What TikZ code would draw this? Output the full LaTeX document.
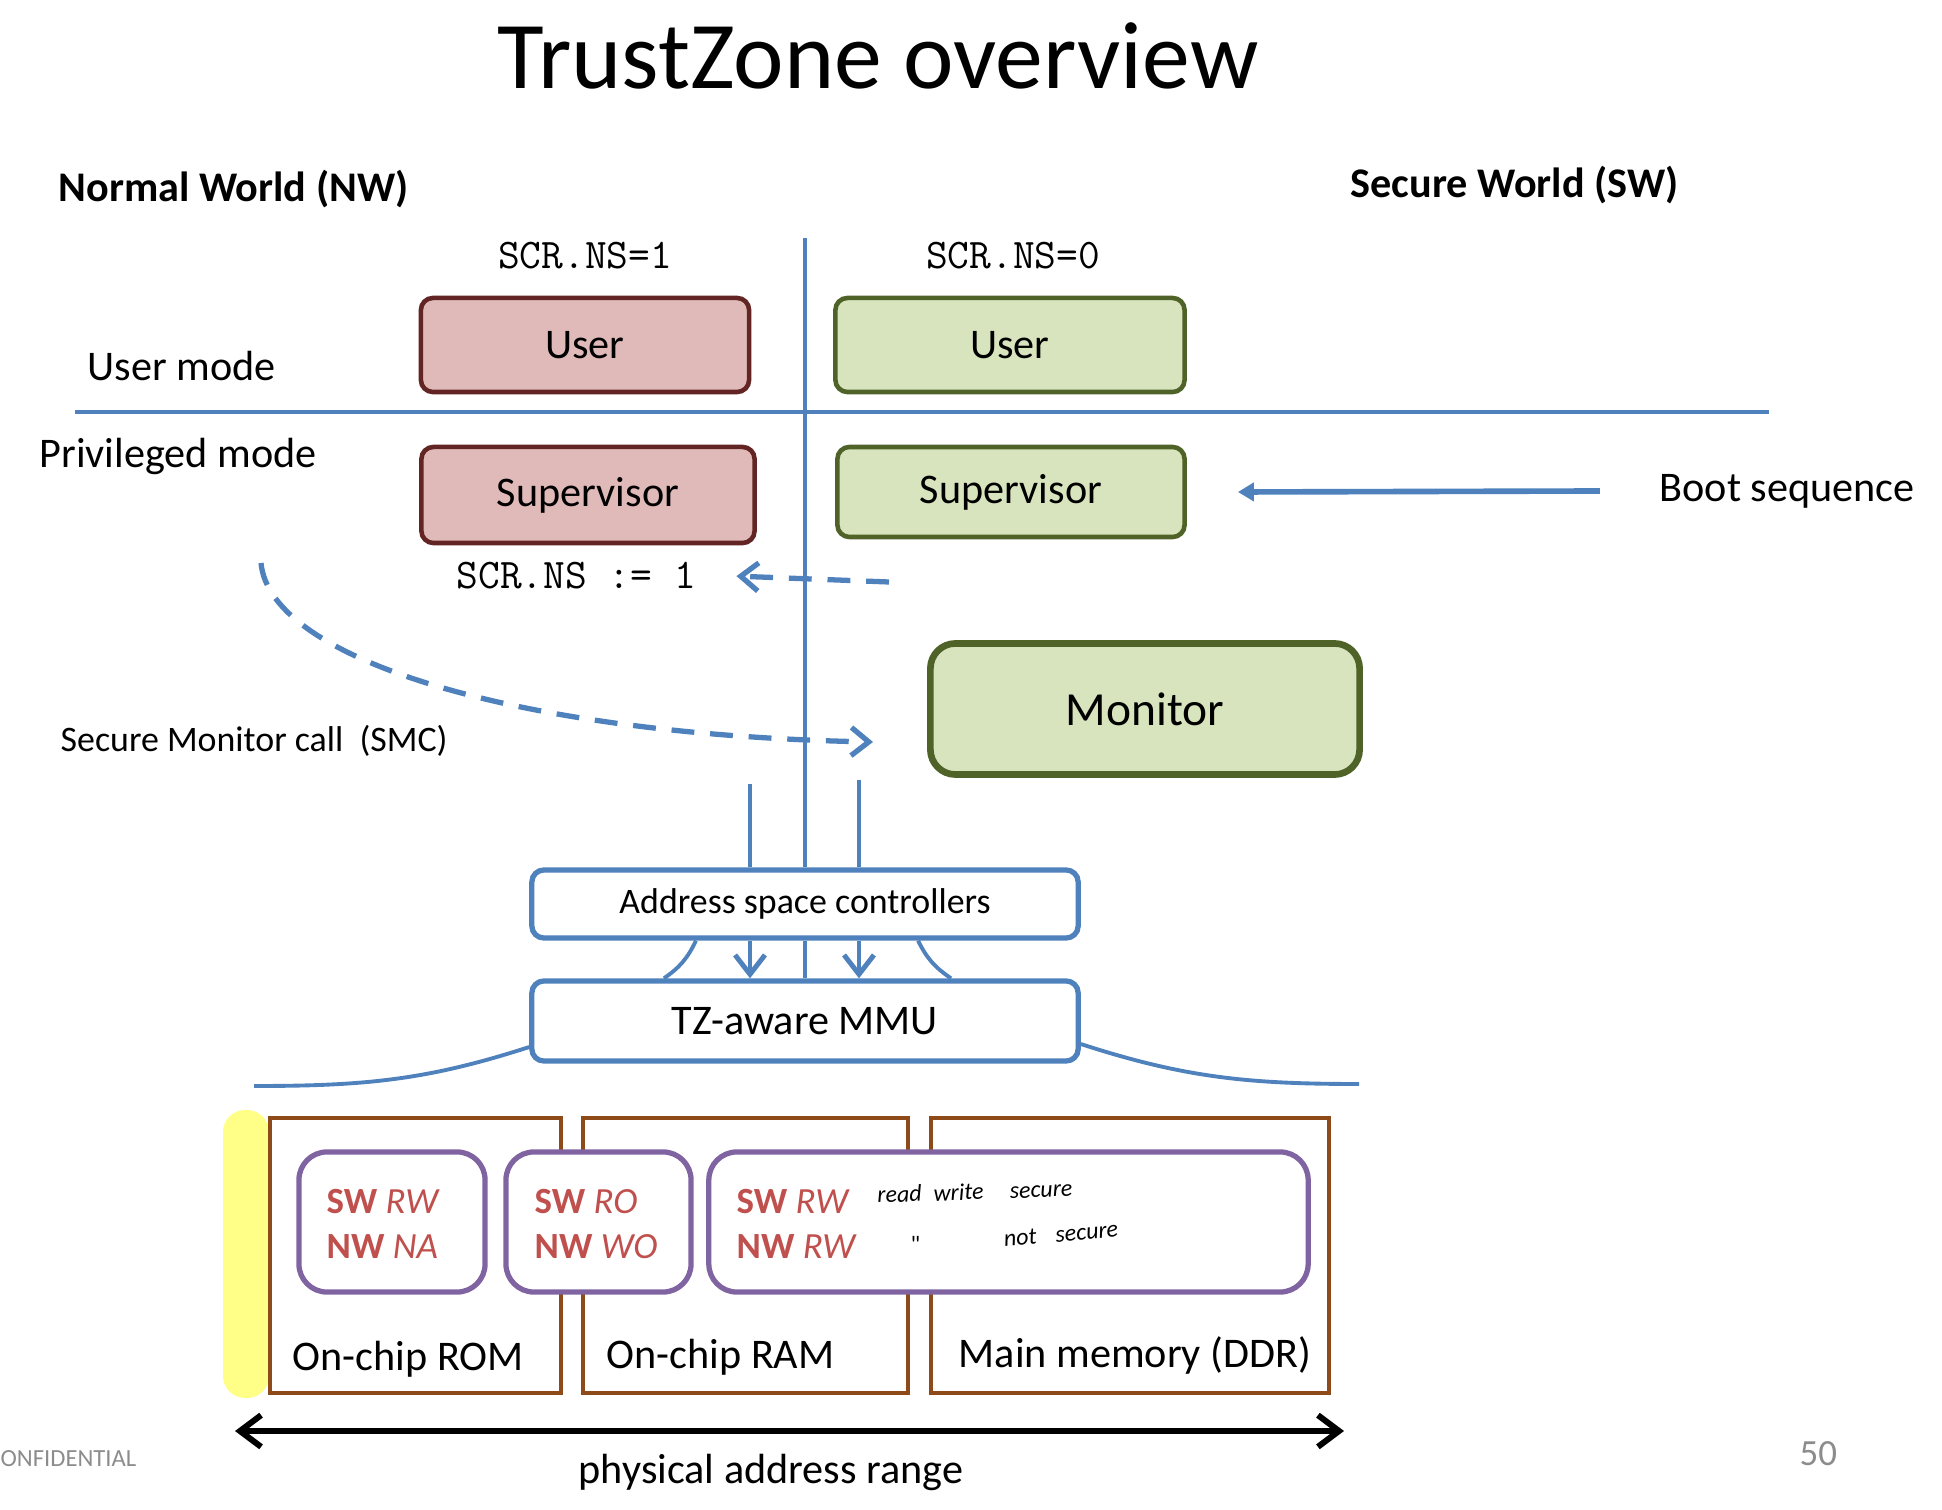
\documentclass[tikz,border=0pt]{standalone}
\usepackage{fontspec}
\setmainfont{Carlito}
\usetikzlibrary{arrows.meta,positioning}
\definecolor{tzblue}{HTML}{4F81BD}
\definecolor{nwfill}{HTML}{E0BAB9}
\definecolor{nwborder}{HTML}{632523}
\definecolor{swfill}{HTML}{D7E4BD}
\definecolor{swborder}{HTML}{4F6228}
\definecolor{membrown}{HTML}{8E4A18}
\definecolor{permpurple}{HTML}{8064A2}
\definecolor{permred}{HTML}{C0504D}
\definecolor{hilite}{HTML}{FFFF88}
\definecolor{footgray}{HTML}{8C8C8C}
\begin{document}
\begin{tikzpicture}[x=0.01cm,y=-0.01cm,
  every node/.style={inner sep=0pt,font=\fontsize{12}{14}\selectfont},
  nwbox/.style={draw=nwborder,fill=nwfill,line width=1.3pt,rounded corners=0.12cm},
  swbox/.style={draw=swborder,fill=swfill,line width=1.3pt,rounded corners=0.12cm},
  hwbox/.style={draw=tzblue,fill=white,line width=1.5pt,rounded corners=0.12cm,minimum width=5.46cm},
  membox/.style={draw=membrown,line width=1.1pt,minimum height=2.75cm},
  permbox/.style={draw=permpurple,fill=white,line width=1.5pt,rounded corners=0.28cm,minimum height=1.40cm},
  perm/.style={text=permred,font=\fontsize{10.5}{12.8}\selectfont,align=left,anchor=west},
  note/.style={font=\fontsize{6.8}{8}\selectfont\itshape},
  mono/.style={font=\fontsize{12}{14}\selectfont\ttfamily},
  small/.style={font=\fontsize{10.2}{12}\selectfont},
  wire/.style={tzblue,line width=1.1pt},
  flow/.style={tzblue,line width=1.5pt,dash pattern=on 6.5pt off 4.5pt,-{Straight Barb[length=5pt,width=8pt]}},
  barb/.style={-{Straight Barb[length=5.5pt,width=8.5pt,line width=1.4pt]}}]
  \useasboundingbox (0,0) rectangle (1942,1510);

  \node[font=\fontsize{27.2}{32}\selectfont,anchor=base] (title) at (878,89) {TrustZone overview};
  \node[anchor=base west,font=\fontsize{12}{14}\selectfont\bfseries] (nwtitle) at (58,202) {Normal World (NW)};
  \node[anchor=base west,font=\fontsize{12}{14}\selectfont\bfseries] (swtitle) at (1350,198) {Secure World (SW)};
  \node[mono,anchor=base] (nsone) at (585,269) {SCR.NS=1};
  \node[mono,anchor=base] (nszero) at (1013,269) {SCR.NS=0};
  \node[anchor=base west] (usermode) at (87,381) {User mode};
  \node[anchor=base west] (privmode) at (39,468) {Privileged mode};

  \coordinate (worldtop) at (805,238);
  \coordinate (modeleft) at (75,412);
  \coordinate (moderight) at (1769,412);
  \draw[wire] (modeleft) -- (moderight);

  \node[nwbox,minimum width=3.28cm,minimum height=0.94cm] (nwuser) at (585,345) {User};
  \node[swbox,minimum width=3.49cm,minimum height=0.94cm] (swuser) at (1010,345) {User};
  \node[nwbox,minimum width=3.33cm,minimum height=0.96cm] (nwsup) at (588,495) {Supervisor};
  \node[swbox,minimum width=3.47cm,minimum height=0.90cm] (swsup) at (1011,492) {Supervisor};
  \node[swbox,line width=1.9pt,rounded corners=0.25cm,minimum width=4.29cm,minimum height=1.31cm,
    font=\fontsize{13.5}{16}\selectfont] (monitor) at (1145,709) {Monitor};

  \node[anchor=west] (boot) at (1659,491) {Boot sequence};
  \draw[tzblue,line width=1.6pt,-{Triangle[length=0.16cm,width=0.18cm]}] ([xshift=-0.59cm]boot.west) -- ([xshift=0.51cm]swsup.east);

  \node[mono,anchor=base west] (scrset) at (456,589) {SCR.NS~:=~1};
  \coordinate (retstart) at (889,582);
  \draw[flow] (retstart) -- ([xshift=0.4cm]scrset.east);

  \node[small,anchor=base west] (smclbl) at (60,752) {Secure Monitor call~~(SMC)};
  \coordinate (smcstart) at (261,563);
  \coordinate (smcend) at (873,742);
  \draw[flow] (smcstart) .. controls (270,660) and (520,735) .. (smcend);

  \node[hwbox,small,minimum height=0.68cm] (asc) at (805,904) {Address space controllers};
  \node[hwbox,minimum height=0.80cm] (mmu) at (805,1021) {TZ-aware MMU};
  \draw[wire] (worldtop) -- (asc.north);
  \draw[wire] (asc.south) -- (mmu.north);

  \coordinate (nsbus) at (750,784);
  \coordinate (sbus) at (859,780);
  \draw[wire] (nsbus) -- (nsbus |- asc.north);
  \draw[wire] (sbus) -- (sbus |- asc.north);
  \draw[wire,barb] (nsbus |- asc.south) -- (nsbus |- mmu.north);
  \draw[wire,barb] (sbus |- asc.south) -- (sbus |- mmu.north);
  \draw[wire] ([xshift=-1.09cm]asc.south) to[bend left=15] ([xshift=-1.41cm]mmu.north);
  \draw[wire] ([xshift=1.13cm]asc.south) to[bend right=15] ([xshift=1.46cm]mmu.north);

  \coordinate (busleft) at (254,1086);
  \coordinate (busright) at (1359,1084);
  \draw[wire] ([yshift=-0.26cm]mmu.west) to[out=198,in=0] (busleft);
  \draw[wire] ([yshift=-0.23cm]mmu.east) to[out=-18,in=180] (busright);

  \fill[hilite,rounded corners=0.22cm] (223,1110) rectangle (269,1398);

  \node[membox,minimum width=2.91cm] (rom) at (415.5,1255.5) {};
  \node[membox,minimum width=3.25cm] (ram) at (745.5,1255.5) {};
  \node[membox,minimum width=3.98cm] (ddr) at (1130,1255.5) {};
  \node[anchor=base west] (romlbl) at (292,1370) {On-chip ROM};
  \node[anchor=base west] (ramlbl) at (606,1368) {On-chip RAM};
  \node[anchor=base west] (ddrlbl) at (958,1367) {Main memory (DDR)};

  \node[permbox,minimum width=1.86cm] (romperm) at (392,1222) {};
  \node[permbox,minimum width=1.85cm] (ramperm) at (598.5,1222) {};
  \node[permbox,minimum width=5.99cm] (ddrperm) at (1008.5,1222) {};
  \node[perm] (romrights) at (326,1224) {\textbf{SW} \textit{RW}\\\textbf{NW} \textit{NA}};
  \node[perm] (ramrights) at (534,1224) {\textbf{SW} \textit{RO}\\\textbf{NW} \textit{WO}};
  \node[perm] (ddrrights) at (736,1224) {\textbf{SW} \textit{RW}\\\textbf{NW} \textit{RW}};
  \node[note,anchor=base west,rotate=2] (swnote) at (877,1203) {read\hspace{0.5em}write\hspace{1.1em}secure};
  \node[note,anchor=base west,font=\fontsize{6.8}{8}\selectfont\upshape] (ditto) at (910,1252) {\textquotedbl};
  \node[note,anchor=base west,rotate=5] (nwnote) at (1004,1247) {not\hspace{0.8em}secure};

  \coordinate (rangeleft) at (235,1431);
  \coordinate (rangeright) at (1344,1431);
  \draw[line width=1.7pt,{Straight Barb[length=6pt,width=9pt]}-{Straight Barb[length=6pt,width=9pt]}] (rangeleft) -- (rangeright);
  \node[anchor=base] (rangelbl) at (771,1483) {physical address range};

  \node[anchor=base west,text=footgray,font=\fontsize{7}{8}\selectfont] (conf) at (0,1466) {ONFIDENTIAL};
  \node[anchor=base west,text=footgray,font=\fontsize{10.5}{12}\selectfont] (pagenum) at (1799,1465) {50};
\end{tikzpicture}
\end{document}
